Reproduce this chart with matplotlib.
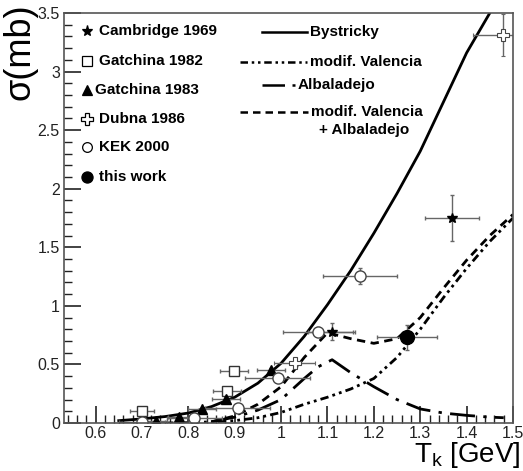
import matplotlib
matplotlib.use("Agg")
import matplotlib.pyplot as plt
import numpy as np
from matplotlib.ticker import MultipleLocator

plt.rcParams["font.family"] = ["Liberation Sans", "DejaVu Sans"]

# theory curves
bys_x = [0.65, 0.70, 0.75, 0.80, 0.85, 0.90, 0.95, 1.00, 1.05, 1.10, 1.15, 1.20, 1.25, 1.30, 1.35, 1.40, 1.45, 1.47]
bys_y = [0.02, 0.035, 0.055, 0.085, 0.14, 0.22, 0.34, 0.51, 0.74, 1.01, 1.30, 1.62, 1.96, 2.32, 2.74, 3.16, 3.50, 3.66]

val_x = [0.75, 0.80, 0.85, 0.90, 0.95, 1.00, 1.05, 1.10, 1.15, 1.20, 1.25, 1.30, 1.35, 1.40, 1.45, 1.50]
val_y = [0.0, 0.003, 0.01, 0.02, 0.045, 0.09, 0.16, 0.22, 0.29, 0.38, 0.56, 0.80, 1.07, 1.32, 1.55, 1.75]

alb_x = [0.85, 0.90, 0.95, 1.00, 1.05, 1.08, 1.11, 1.15, 1.20, 1.25, 1.30, 1.35, 1.40, 1.45, 1.48]
alb_y = [0.01, 0.05, 0.11, 0.20, 0.38, 0.48, 0.54, 0.43, 0.31, 0.20, 0.12, 0.085, 0.065, 0.05, 0.045]

sum_x = [0.85, 0.90, 0.95, 1.00, 1.05, 1.10, 1.15, 1.20, 1.25, 1.30, 1.35, 1.40, 1.45, 1.50]
sum_y = [0.01, 0.06, 0.16, 0.31, 0.56, 0.77, 0.72, 0.68, 0.72, 0.90, 1.15, 1.39, 1.60, 1.78]

# data sets: x, y, xerr, yerr
camb_x = [1.109, 1.368]
camb_y = [0.78, 1.75]
camb_xe = [0.05, 0.058]
camb_ye = [0.075, 0.20]

g82_x = [0.700, 0.883, 0.899]
g82_y = [0.10, 0.27, 0.44]
g82_xe = [0.026, 0.03, 0.03]
g82_ye = [0.015, 0.02, 0.025]

g83_x = [0.730, 0.781, 0.830, 0.881, 0.978]
g83_y = [0.02, 0.05, 0.117, 0.205, 0.453]
g83_xe = [0.025, 0.025, 0.03, 0.03, 0.03]
g83_ye = [0.005, 0.008, 0.01, 0.015, 0.02]

dub_x = [1.029, 1.478]
dub_y = [0.51, 3.31]
dub_xe = [0.045, 0.065]
dub_ye = [0.03, 0.18]

kek_x = [0.700, 0.813, 0.907, 0.993, 1.080, 1.170]
kek_y = [0.01, 0.04, 0.125, 0.387, 0.78, 1.256]
kek_xe = [0.05, 0.06, 0.07, 0.07, 0.075, 0.08]
kek_ye = [0.005, 0.01, 0.02, 0.03, 0.04, 0.07]

tw_x = [1.271]
tw_y = [0.73]
tw_xe = [0.065]
tw_ye = [0.107]

fig = plt.figure(figsize=(5.23, 4.71), dpi=100)
ax = fig.add_axes([64 / 523, 48 / 471, 449 / 523, 410 / 471])

lw = 2.0
ax.plot(bys_x, bys_y, "-", color="black", lw=lw)
ax.plot(val_x, val_y, color="black", lw=lw, linestyle=(0, (3, 1.5, 1, 1.5, 1, 1.5)))
ax.plot(alb_x, alb_y, color="black", lw=lw, linestyle=(0, (9, 3, 1.2, 3)))
ax.plot(sum_x, sum_y, color="black", lw=lw, linestyle=(0, (3, 2)))

ekw = dict(ls="none", ecolor="#666666", elinewidth=1.0, capsize=1.5, capthick=1.0)
ax.errorbar(camb_x, camb_y, xerr=camb_xe, yerr=camb_ye, marker="*", ms=7, mfc="black", mec="black", **ekw)
ax.errorbar(g82_x, g82_y, xerr=g82_xe, yerr=g82_ye, marker="s", ms=7, mfc="white", mec="#333333", **ekw)
ax.errorbar(g83_x, g83_y, xerr=g83_xe, yerr=g83_ye, marker="^", ms=7, mfc="black", mec="black", **ekw)
ax.errorbar(dub_x, dub_y, xerr=dub_xe, yerr=dub_ye, marker="P", ms=8, mfc="white", mec="#444444", mew=0.8, **ekw)
ax.errorbar(kek_x, kek_y, xerr=kek_xe, yerr=kek_ye, marker="o", ms=8, mfc="white", mec="#444444", **ekw)
ax.errorbar(tw_x, tw_y, xerr=tw_xe, yerr=tw_ye, marker="o", ms=10, mfc="black", mec="black", **ekw)

ax.set_xlim(0.532, 1.5)
ax.set_ylim(0, 3.5)
ax.xaxis.set_major_locator(MultipleLocator(0.1))
ax.xaxis.set_minor_locator(MultipleLocator(0.02))
ax.yaxis.set_major_locator(MultipleLocator(0.5))
ax.yaxis.set_minor_locator(MultipleLocator(0.1))
ax.tick_params(which="both", direction="in", top=False, right=False, labelsize=11.5, colors="#222222")
ax.tick_params(which="major", length=12, width=1.2)
ax.tick_params(which="minor", length=6, width=1.0)
ax.tick_params(axis="x", pad=2)
ax.tick_params(axis="y", pad=3)
ax.set_xticks([0.6, 0.7, 0.8, 0.9, 1.0, 1.1, 1.2, 1.3, 1.4, 1.5])
ax.set_xticklabels(["0.6", "0.7", "0.8", "0.9", "1", "1.1", "1.2", "1.3", "1.4", "1.5"])
ax.set_yticks([0, 0.5, 1, 1.5, 2, 2.5, 3, 3.5])
ax.set_yticklabels(["0", "0.5", "1", "1.5", "2", "2.5", "3", "3.5"])
for s in ax.spines.values():
    s.set_color("#555555")
    s.set_linewidth(1.2)

fig.text(20 / 523, 1 - 52 / 471, "σ(mb)", rotation=90, ha="center", va="center", fontsize=26)
fig.text(520 / 523, 9 / 471, "T$_\\mathregular{k}$ [GeV]", ha="right", va="baseline", fontsize=20)


def fx(px):
    return (px - 64) / 449


def fy(py):
    return (423 - py) / 410


tr = ax.transAxes
# left legend
left_items = [
    ("*", "black", 8, "Cambridge 1969", 30.5, 99),
    ("s", "white", 7, "Gatchina 1982", 61, 99),
    ("^", "black", 7, "Gatchina 1983", 90, 95),
    ("P", "white", 8, "Dubna 1986", 119, 99),
    ("o", "white", 7, "KEK 2000", 147, 99),
    ("o", "black", 8, "this work", 177, 99),
]
for m, fc, ms, lab, py, tx in left_items:
    ax.plot([fx(86.5)], [fy(py)], marker=m, ms=ms, mfc=fc, mec="black", mew=0.9, transform=tr, clip_on=False)
    ax.text(fx(tx), fy(py), lab, transform=tr, fontsize=11, fontweight="bold", va="center", ha="left")

# right legend
right_items = [
    ("-", 262, 307, "Bystricky", 32),
    ((0, (3, 1.5, 1, 1.5, 1, 1.5)), 240, 307, "modif. Valencia", 61.5),
    ((0, (9, 3, 1.2, 3)), 262, 295, "Albaladejo", 85),
    ((0, (3, 2)), 240, 308, "modif. Valencia", 111.5),
]
for ls, x0, x1, lab, py in right_items:
    ax.plot([fx(x0), fx(x1)], [fy(py), fy(py)], color="black", lw=1.8, linestyle=ls, transform=tr)
    ax.text(fx(x1 + 3), fy(py), lab, transform=tr, fontsize=11, fontweight="bold", va="center", ha="left")
ax.text(fx(319), fy(130), "+ Albaladejo", transform=tr, fontsize=11, fontweight="bold", va="center", ha="left")

fig.savefig("out.png", dpi=100)
